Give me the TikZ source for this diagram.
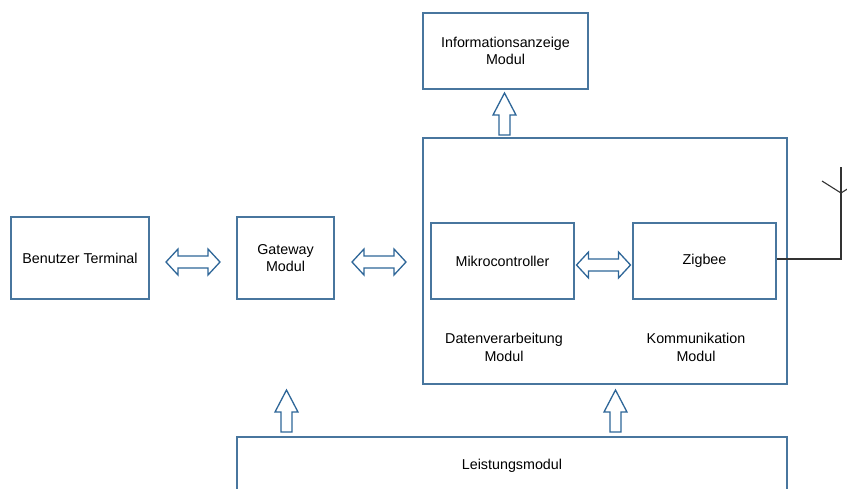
\documentclass[tikz,border=0pt]{standalone}
\usepackage{fontspec}
\setmainfont{Liberation Sans}
\usetikzlibrary{calc}
\begin{document}
\begin{tikzpicture}[x=1pt,y=-1pt,
  box/.style={draw=boxblue,line width=1.3pt,rectangle,inner sep=0pt,align=center,font=\fontsize{14.3}{17.5}\selectfont},
  lbl/.style={align=center,inner sep=0pt,font=\fontsize{14.3}{17.5}\selectfont},
  blk/.style={draw=arrblue,line width=1.3pt,fill=white,line join=miter},
  ant/.style={draw=black!80,line width=1.1pt}]
\definecolor{boxblue}{RGB}{72,118,158}
\definecolor{arrblue}{RGB}{46,102,152}
\useasboundingbox (0,0) rectangle (847,488);
\clip (0,0) rectangle (847,488);
% boxes
\node[box,minimum width=165pt,minimum height=76pt] (info) at (505.5,51) {Informationsanzeige\\Modul};
\node[box,minimum width=364pt,minimum height=246pt] (big) at (605,261) {};
\node[box,minimum width=138pt,minimum height=82pt] (term) at (80,258) {Benutzer Terminal};
\node[box,minimum width=97pt,minimum height=82pt] (gw) at (285.5,258) {Gateway\\Modul};
\node[box,minimum width=143pt,minimum height=76pt] (mc) at (502.5,261) {Mikrocontroller};
\node[box,minimum width=143pt,minimum height=76pt] (zb) at (704.5,261) {Zigbee};
\node[box,minimum width=550pt,minimum height=70pt] (lm) at (512,472) {};
\node[lbl] (lmt) at (512,466) {Leistungsmodul};
\node[lbl] (dv) at (504,347.5) {Datenverarbeitung\\Modul};
\node[lbl] (km) at (696,347.5) {Kommunikation\\Modul};
% double arrows
\coordinate (da1) at ($(term.east)!0.5!(gw.west)+(0,4)$);
\coordinate (da2) at (379,262);
\coordinate (da3) at ($(mc.east)!0.5!(zb.west)+(0,4)$);
\foreach \c in {da1,da2,da3}{
  \draw[blk] (\c) ++(-27,0) -- ++(12,-13) -- ++(0,7) -- ++(30,0) -- ++(0,-7) -- ++(12,13)
    -- ++(-12,13) -- ++(0,-7) -- ++(-30,0) -- ++(0,7) -- cycle;
}
% up arrows
\coordinate (ua1) at (504.5,93);
\coordinate (ua2) at (286.5,390);
\coordinate (ua3) at (615.5,390);
\foreach \c in {ua1,ua2,ua3}{
  \draw[blk] (\c) -- ++(11.5,22) -- ++(-6,0) -- ++(0,20) -- ++(-11,0) -- ++(0,-20) -- ++(-6,0) -- cycle;
}
% antenna
\coordinate (antb) at (841,259);
\coordinate (anta) at (841,193);
\coordinate (antt) at (841,167);
\draw[ant] (zb.east |- antb) -- (antb) -- (antt);
\draw[ant] (822,181) -- (anta) -- (860,181);
\end{tikzpicture}
\end{document}
